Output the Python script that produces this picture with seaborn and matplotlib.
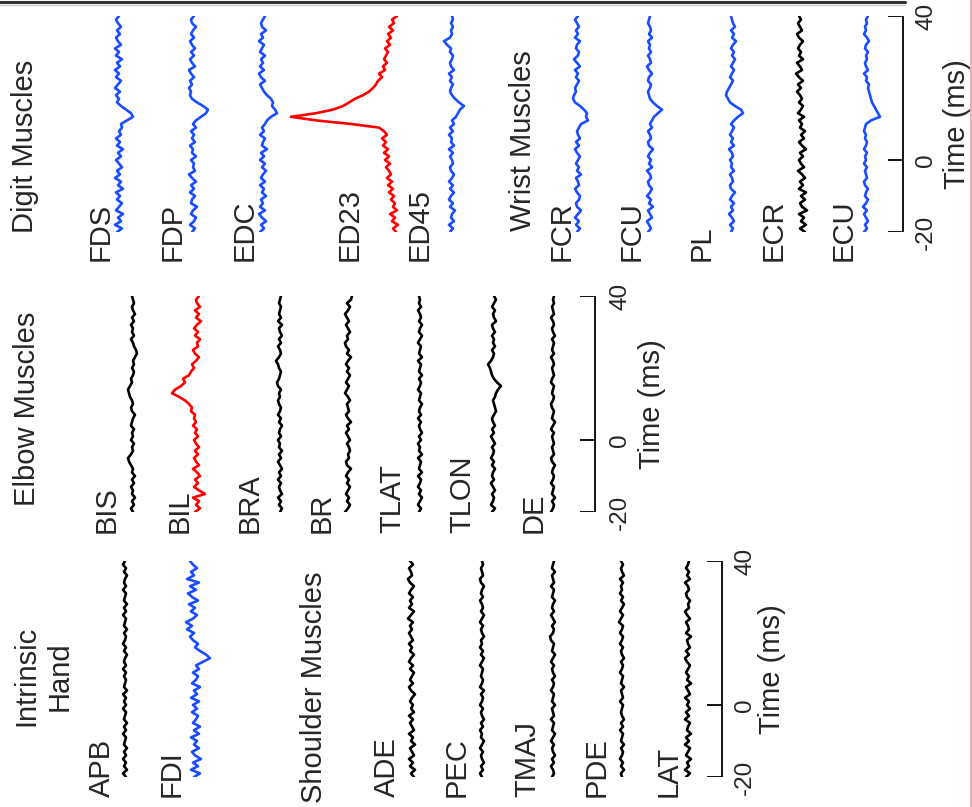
import numpy as np
import pandas as pd
import matplotlib
matplotlib.use("Agg")
import matplotlib.pyplot as plt
from matplotlib.lines import Line2D
import seaborn as sns

sns.set_style("white")
plt.rcParams['font.family'] = ['Liberation Sans', 'DejaVu Sans']

# ---------------- data ----------------
time_ms = list(range(-20, 41))          # spike-triggered average time base (ms)
time_ticks = [-20, 0, 40]

# amplitudes (positive = upward deflection in the unrotated record)
FDS = [2,-3,4,-2,1,-4,3,0,-3,2, -1,3,-4,1,-2,4,-1,2,-3,0, 3,-2,1,-4,2,-1,3,-2,0,-3,
       -2,-8,-14,-12,-7,-2,2,0,3,-1, 4,1,-2,3,0,4,-1,2,-3,3, 0,4,-2,1,3,-1,2,-2,1,3, 0]
FDP = [1,-2,3,-1,-3,2,0,-4,2,1, -2,3,-1,2,-3,1,4,-2,0,-1, 2,-3,1,0,3,-2,1,-1,2,-3,
       0,-3,-8,-13,-15,-10,-4,1,3,2, 4,1,3,-1,2,4,-2,1,3,-1, 2,-2,1,3,-1,2,0,-3,1,2, -1]
EDC = [3,-1,2,-3,1,4,-2,3,0,2, -3,1,-1,3,-2,2,0,-3,1,-2, 3,-1,2,-4,1,0,-2,3,-1,1,
       -2,-4,-8,-14,-12,-9,-10,-8,-4,-1, 1,3,-2,2,4,-1,3,0,2,-2, 3,1,-1,4,0,2,-3,1,2,0, -2]
ED23 = [-5,-2,-7,-1,-4,1,-6,-2,-4,0, -3,2,-2,3,-1,4,0,2,5,1, 6,2,7,3,8,5,9,4,7,12,
        40,75,100,75,58,48,42,36,28,22, 18,15,13,9,12,6,8,4,7,5, 3,6,1,4,0,3,-2,2,-3,-1, -6]
ED45 = [2,-1,3,-2,1,0,-3,2,-1,3, 1,-2,2,-1,3,0,-2,1,2,-1, 0,2,-1,3,-2,1,0,3,-1,2,
        -2,0,-4,-6,-8,-12,-7,-3,0,2, 1,-1,2,0,3,-2,1,2,0,-1, 2,1,5,8,2,0,1,-1,1,-1, 0]
FCR = [1,-2,2,-1,3,0,-3,1,2,-1, -2,1,3,-1,0,2,-3,1,-1,2, 0,-2,1,3,-1,2,-2,0,1,-1,
       -3,-10,-8,-9,-6,-2,3,5,4,2, 3,1,-1,2,0,3,-2,1,4,0, -1,2,1,-2,3,0,2,-1,1,3, 0]
FCU = [2,-1,1,3,-2,0,2,-3,1,-1, 3,0,-2,1,2,-1,0,3,-2,1, -1,2,0,-3,1,2,-1,0,2,-2,
       0,-2,-4,-8,-12,-7,-3,0,1,2, 0,-1,2,1,-2,1,3,-1,0,2, -1,1,0,2,-2,1,-1,0,2,1, 0]
PL = [1,-1,2,-2,0,3,-1,1,-2,2, 0,-3,1,2,-1,0,2,-2,1,0, 2,-1,0,3,-2,1,-1,2,0,-2,
      1,-2,-6,-11,-9,-3,2,4,6,5, 3,1,-1,2,0,-2,1,-1,-3,0, -2,1,-1,-4,0,-2,1,-3,-1,0, 1]
ECR = [-3,2,-4,1,-2,3,-5,0,2,-3, 1,-4,3,-1,2,-3,0,4,-2,1, 3,-1,2,-4,0,3,-2,1,-3,2,
       0,3,-2,4,1,-1,3,0,2,5, 1,4,-1,3,6,0,2,5,-1,3, 1,4,2,-1,3,5,0,2,4,1, 3]
ECU = [2,-1,1,-2,0,2,-1,3,0,-2, 1,0,-2,1,2,-1,0,1,-1,2, 0,1,-1,2,0,-1,1,0,2,1,
       0,-5,-14,-12,-10,-8,-6,-5,-4,-3, -2,-3,0,-1,2,-2,0,1,-1,0, -2,1,0,-3,-1,2,0,1,-1,0, -2]

BIS = [0,2,-1,1,-2,1,0,2,-1,1, -2,1,0,2,4,5,2,0,1,-1, 2,0,1,-1,2,1,0,-2,1,2,
       0,1,3,4,5,3,1,2,0,-1, 1,-1,0,-2,-4,-3,-1,0,2,-1, 1,0,2,-1,1,-2,0,1,-1,0, 1]
BIL = [2,-3,1,-2,4,-8,-2,3,-1,2, -3,0,4,-2,1,3,-1,2,-2,1, 3,-1,2,0,4,1,3,2,6,5,
       8,12,18,25,22,16,12,14,8,6, 3,5,1,-2,2,4,-1,0,-3,2, -1,3,0,-4,1,-2,2,-3,0,1, -2]
BRA = [0,-2,1,-1,2,-2,0,1,-1,2, -1,1,-2,0,2,-1,1,-2,1,0, 2,-1,1,0,-2,1,-1,2,0,-1,
       1,2,0,1,-1,2,3,1,0,-1, 1,2,4,1,-1,0,2,-1,1,-2, 0,1,-2,2,-1,1,0,-1,1,0, -1]
BR = [3,0,-2,1,-1,2,0,-2,1,-1, 2,0,-3,1,2,-1,0,-2,-1,1, -2,0,2,-1,1,-3,0,2,-1,0,
      1,-2,0,3,1,-1,2,0,-2,1, -1,2,0,-3,1,-1,2,3,0,1, -2,0,2,-1,1,3,0,-2,1,-3, -4]
TLAT = [1,-1,2,0,-2,1,-1,2,0,-1, 2,-2,1,0,-1,2,-2,1,0,2, -1,1,-2,0,1,-1,2,-1,1,0,
        -2,1,0,-1,2,0,-1,1,-2,1, 0,-1,2,-2,1,0,-1,2,0,-2, 1,0,-2,1,-1,0,2,-1,1,0, 1]
TLON = [1,-2,2,0,-1,1,-2,0,2,-1, 1,0,-2,1,-1,2,0,-1,1,-2, 0,2,-1,1,-2,0,1,-1,-3,-2,
        -1,0,-2,-3,-5,-8,-4,-1,1,2, 3,5,2,0,-1,1,-2,0,-1,1, -2,0,1,-3,-1,0,-2,1,-1,-3, -1]
DE = [2,0,-1,1,-2,1,0,-1,2,0, -1,1,0,-2,1,2,-1,0,1,-1, 0,1,-1,2,0,-2,1,0,-1,1,
      2,0,-1,1,0,-1,2,1,-1,0, 1,-1,0,2,-1,1,0,-1,1,-2, 0,1,-1,0,2,-1,0,1,-1,0, -1]

APB = [-1,2,-2,1,-1,2,-1,1,-2,1, 0,-1,2,-1,1,-2,1,0,-1,2, -1,1,-1,2,-2,1,0,-1,1,-1,
       2,-1,1,0,-2,1,-1,2,0,-1, 1,-2,1,0,-1,2,-1,1,-2,1, 0,-1,2,-1,1,0,-2,1,-1,2, 0]
FDI = [2,-4,5,-2,3,-5,1,4,-3,2, -1,5,-3,2,-4,3,0,-2,4,-1, 3,-3,5,-1,2,-4,4,0,-2,3,
       -3,0,-7,-14,-10,-4,1,-2,3,6, 2,9,4,10,3,-1,5,1,7,-2, 4,8,0,6,-3,9,2,5,-1,3, 6]
ADE = [-2,1,-3,2,-1,3,-2,0,2,-3, 1,-1,3,-2,0,2,-1,3,-2,1, -1,2,0,-3,1,3,-1,2,0,-2,
       2,-1,3,1,-2,2,0,3,-1,1, 3,0,2,-1,4,1,-2,3,0,2, -1,3,1,-2,2,4,0,1,3,-1, 2]
PEC = [0,2,-1,1,-2,0,1,-1,2,0, -2,1,0,2,-1,1,-2,0,1,-1, 2,0,-1,1,-2,2,0,-1,1,0,
       -1,2,0,-2,1,-1,2,0,1,-2, 0,1,-1,2,0,-2,1,-1,0,2, -1,1,0,-2,1,2,-1,0,1,-1, 0]
TMAJ = [1,-1,0,2,-1,1,-2,0,1,-1, 2,0,-2,1,0,-1,2,-1,0,1, -2,1,0,-1,2,0,-1,1,-2,0,
        1,-1,2,0,-2,1,0,-1,2,3, 0,-1,1,-2,0,2,-1,1,0,-2, 1,0,-1,2,-1,0,1,-2,1,0, -1]
PDE = [0,1,-2,1,-1,2,0,-1,1,-2, 1,0,-1,2,-1,1,-2,0,1,0, -1,2,-1,0,1,-2,1,0,-1,2,
       0,-1,1,-2,0,1,-1,2,0,-1, 2,0,-1,3,1,-1,2,0,-2,1, -1,2,0,1,-1,2,-2,0,1,-1, 1]
LAT = [2,-2,3,-1,1,-3,2,0,-2,3, -1,2,-3,1,0,-2,3,-1,2,-2, 1,-1,3,-2,0,2,-3,1,-1,2,
       0,-2,1,3,-1,2,-2,0,1,-3, 2,-1,0,2,-2,1,3,-1,0,-2, 1,2,-1,0,3,-2,1,-1,2,0, -1]

BLUE, RED, BLACK = '#1a4dff', '#ff0000', '#000000'

# ---------------- layout (pixels of the 972x807 canvas) ----------------
W, H = 972, 807
panels = [
    dict(top=16, bottom=232, bracket=903, ticklab=926, timelab=957,
         traces=[('FDS', FDS, 119, BLUE, 109), ('FDP', FDP, 193, BLUE, 181),
                 ('EDC', EDC, 263, BLUE, 253), ('ED23', ED23, 391, RED, 358),
                 ('ED45', ED45, 452, BLUE, 428), ('FCR', FCR, 578, BLUE, 570),
                 ('FCU', FCU, 650, BLUE, 640), ('PL', PL, 732, BLUE, 710),
                 ('ECR', ECR, 802, BLACK, 782), ('ECU', ECU, 866, BLUE, 852)],
         label_y=261,
         headers=[('Digit Muscles', 33, 233), ('Wrist Muscles', 531, 231)]),
    dict(top=296, bottom=512, bracket=595, ticklab=620, timelab=652,
         traces=[('BIS', BIS, 133, BLACK, 115), ('BIL', BIL, 197, RED, 188),
                 ('BRA', BRA, 280, BLACK, 258), ('BR', BR, 348, BLACK, 330),
                 ('TLAT', TLAT, 420, BLACK, 400), ('TLON', TLON, 493, BLACK, 470),
                 ('DE', DE, 553, BLACK, 542)],
         label_y=533,
         headers=[('Elbow Muscles', 35, 506)]),
    dict(top=561, bottom=777, bracket=722, ticklab=745, timelab=772,
         traces=[('APB', APB, 125, BLACK, 110), ('FDI', FDI, 196, BLUE, 180),
                 ('ADE', ADE, 412, BLACK, 395), ('PEC', PEC, 482, BLACK, 465),
                 ('TMAJ', TMAJ, 553, BLACK, 535), ('PDE', PDE, 622, BLACK, 605),
                 ('LAT', LAT, 688, BLACK, 677)],
         label_y=797,
         headers=[('Shoulder Muscles', 322, 803)]),
]

FS = 21
fig = plt.figure(figsize=(W / 100, H / 100), dpi=100)
fig.patch.set_facecolor('white')

def fx(px):
    return px / W

def fy(py):
    return 1 - py / H

for p in panels:
    ax = fig.add_axes([0, fy(p['bottom']), 1, (p['bottom'] - p['top']) / H])
    ax.set_xlim(0, W)
    ax.set_ylim(time_ticks[0], time_ticks[-1])
    ax.axis('off')
    rows = []
    for name, amp, cx, col, _ in p['traces']:
        for t, a in zip(time_ms, amp):
            rows.append((name, t, cx - a))
    df = pd.DataFrame(rows, columns=['muscle', 'time', 'x'])
    pal = {name: col for name, _, _, col, _ in p['traces']}
    sns.lineplot(data=df, x='x', y='time', hue='muscle', palette=pal,
                 orient='y', estimator=None, legend=False, ax=ax,
                 linewidth=1.9)
    # time scale bracket
    bx = p['bracket']
    ax.plot([bx, bx], [time_ticks[0], time_ticks[-1]], color='black', lw=1.3,
            solid_capstyle='butt')
    for t in time_ticks:
        ax.plot([bx - 15, bx], [t, t], color='black', lw=1.3, solid_capstyle='butt')
        ax.text(p['ticklab'], t, str(t), rotation=90, ha='center', va='center',
                fontsize=17.5)
    ax.text(p['timelab'], (time_ticks[0] + time_ticks[-1]) / 2, 'Time (ms)',
            rotation=90, ha='center', va='center', fontsize=FS)
    # channel names
    for name, _, _, _, lx in p['traces']:
        fig.text(fx(lx), fy(p['label_y']), name, rotation=90,
                 rotation_mode='anchor', ha='left', va='baseline', fontsize=FS)
    for txt, hx, hy in p['headers']:
        fig.text(fx(hx), fy(hy), txt, rotation=90, rotation_mode='anchor',
                 ha='left', va='baseline', fontsize=FS)

fig.text(fx(43), fy(676), 'Intrinsic\nHand', rotation=90, rotation_mode='anchor',
         ha='center', va='center', multialignment='center', fontsize=FS,
         linespacing=1.2)

# frame remnants of the original crop
fig.add_artist(Line2D([0, fx(905)], [fy(2), fy(2)], color='#333333', lw=2.2))
fig.add_artist(Line2D([0, fx(905)], [fy(4.5), fy(4.5)], color='#cccccc', lw=1.0))
fig.add_artist(Line2D([fx(970.5), fx(970.5)], [0, 1], color='#f2a0a0', lw=1.2))

fig.savefig('out.png', dpi=100, facecolor='white')
